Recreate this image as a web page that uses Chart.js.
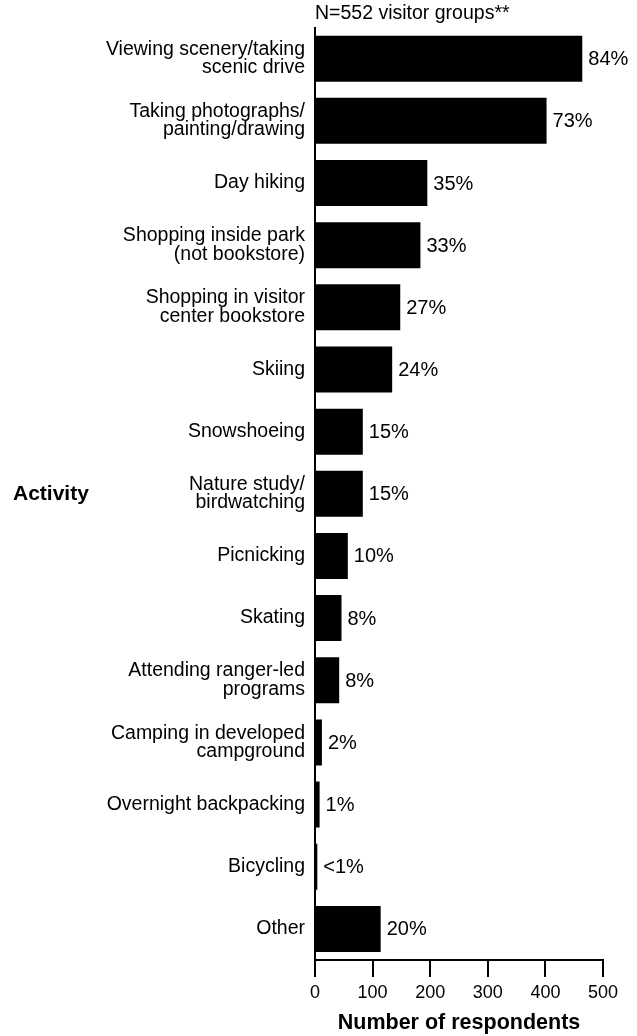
<!DOCTYPE html>
<html>
<head>
<meta charset="utf-8">
<script src="https://cdn.jsdelivr.net/npm/chart.js@4/dist/chart.umd.min.js"></script>
<style>
  html, body { margin: 0; padding: 0; background: #fff; }
  #wrap { width: 637px; height: 1036px; position: relative; }
</style>
</head>
<body>
<div id="wrap"><canvas id="c"></canvas></div>
<script>
const categories = [
  ["Viewing scenery/taking", "scenic drive"],
  ["Taking photographs/", "painting/drawing"],
  "Day hiking",
  ["Shopping inside park", "(not bookstore)"],
  ["Shopping in visitor", "center bookstore"],
  "Skiing",
  "Snowshoeing",
  ["Nature study/", "birdwatching"],
  "Picnicking",
  "Skating",
  ["Attending ranger-led", "programs"],
  ["Camping in developed", "campground"],
  "Overnight backpacking",
  "Bicycling",
  "Other"
];
const respondents = [464, 402, 195, 183, 148, 134, 83, 83, 57, 46, 42, 12, 8, 4, 114];
const percentLabels = ["84%", "73%", "35%", "33%", "27%", "24%", "15%", "15%", "10%", "8%", "8%", "2%", "1%", "<1%", "20%"];
const xTicks = [0, 100, 200, 300, 400, 500];
const sampleNote = "N=552 visitor groups**";
const yTitle = "Activity";
const xTitle = "Number of respondents";

const FONT = "'Liberation Sans', Arial, Helvetica, sans-serif";

const annotatePlugin = {
  id: 'annotate',
  afterDatasetsDraw(chart) {
    const ctx = chart.ctx;
    const meta = chart.getDatasetMeta(0);
    ctx.save();
    ctx.fillStyle = '#000';
    ctx.font = "20px " + FONT;
    ctx.textAlign = 'left';
    ctx.textBaseline = 'middle';
    meta.data.forEach((bar, i) => {
      ctx.fillText(percentLabels[i], bar.x + 6, bar.y + 1);
    });
    const area = chart.chartArea;
    ctx.font = "19.5px " + FONT;
    ctx.fillText(sampleNote, area.left, area.top - 14);
    ctx.font = "bold 21px " + FONT;
    ctx.fillText(yTitle, 13, (area.top + area.bottom) / 2);
    ctx.restore();
  }
};

new Chart(document.getElementById('c'), {
  type: 'bar',
  data: {
    labels: categories,
    datasets: [{
      data: respondents,
      backgroundColor: '#000',
      borderWidth: 0,
      barPercentage: 0.74,
      categoryPercentage: 1.0
    }]
  },
  plugins: [annotatePlugin],
  options: {
    indexAxis: 'y',
    responsive: true,
    maintainAspectRatio: false,
    animation: false,
    devicePixelRatio: 1,
    layout: { padding: { top: 27.6, right: 34, left: 0, bottom: 0 } },
    plugins: {
      legend: { display: false },
      tooltip: { enabled: false },
      title: { display: false }
    },
    scales: {
      x: {
        type: 'linear',
        min: 0,
        max: 500,
        afterBuildTicks(scale) {
          scale.ticks = xTicks.map(v => ({ value: v }));
        },
        afterFit(scale) { scale.height = 76; },
        grid: {
          drawOnChartArea: false,
          drawTicks: true,
          tickLength: 17,
          color: '#000',
          lineWidth: 2
        },
        border: { display: true, color: '#000', width: 2 },
        ticks: {
          color: '#000',
          padding: 5,
          maxRotation: 0,
          font: { family: FONT, size: 18, lineHeight: 1.2 }
        },
        title: {
          display: true,
          text: xTitle,
          color: '#000',
          padding: { top: 0, bottom: 0 },
          font: { family: FONT, size: 21.5, weight: 'bold', lineHeight: 1.2 }
        }
      },
      y: {
        type: 'category',
        afterFit(scale) { scale.width = 315; },
        grid: { display: true, drawOnChartArea: false, drawTicks: false, color: 'rgba(0,0,0,0)' },
        border: { display: true, color: '#000', width: 2 },
        ticks: {
          color: '#000',
          padding: 10,
          autoSkip: false,
          font: { family: FONT, size: 19.5, lineHeight: 0.95 }
        }
      }
    }
  }
});
</script>
</body>
</html>
